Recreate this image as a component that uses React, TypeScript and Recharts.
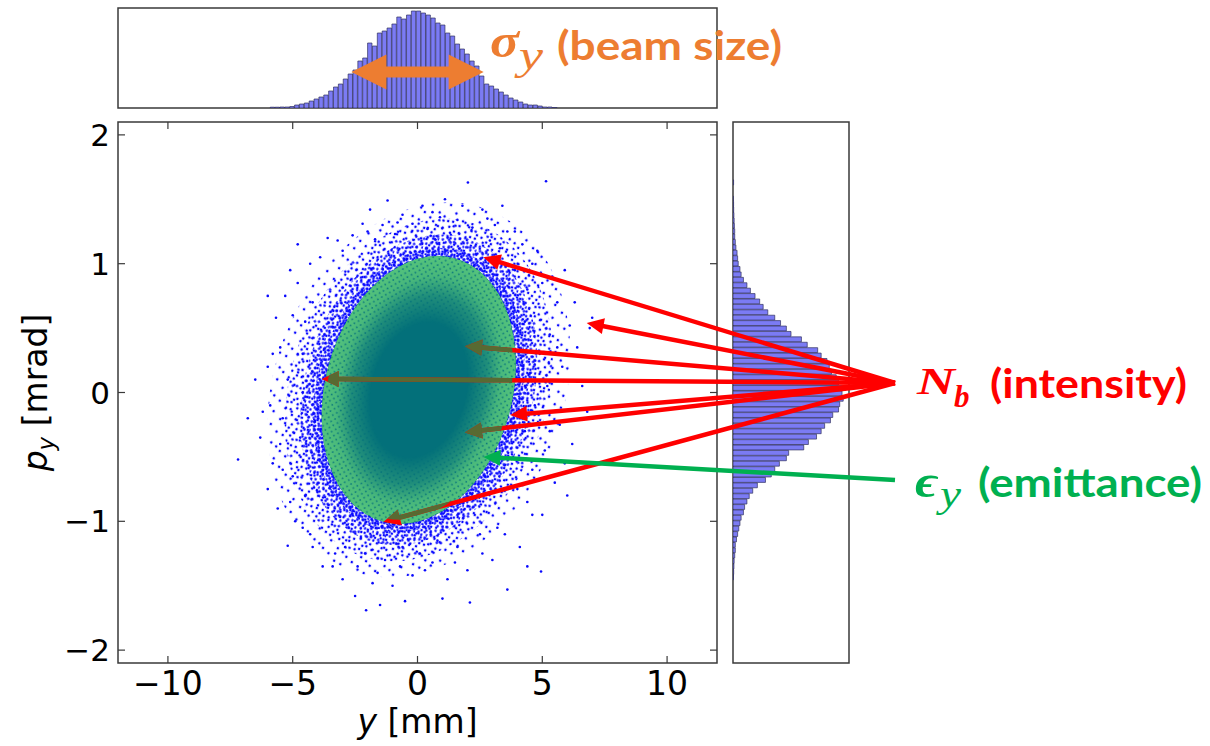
import React from 'react';
import { ScatterChart, Scatter, XAxis, YAxis, ReferenceArea, ComposedChart, Bar } from 'recharts';

const W = 1210;
const H = 746;
const MAIN = { left: 118, right: 717, top: 122, bottom: 663 };
const TOP = { left: 118, right: 717, top: 8, bottom: 108 };
const RIGHT = { left: 733, right: 849, top: 122, bottom: 663 };

const X_DOMAIN: [number, number] = [-12, 12];
const Y_DOMAIN: [number, number] = [-2.1, 2.1];
const X_TICKS = [-10, -5, 0, 5, 10];
const Y_TICKS = [-2, -1, 0, 1, 2];

// top histogram of y [mm] (percent of frame height)
const topBinStart = -5.9;
const topBinWidth = 0.195;
const topCounts = [
  0.8, 0.8, 1, 1, 1.5, 3, 4, 5, 7, 9, 11, 13, 17, 21, 24, 29, 34, 38, 47, 50,
  65, 62, 75, 77, 80, 84, 91, 89, 93, 97, 97, 95, 93, 90, 85, 83, 75, 72, 64, 59,
  54, 47, 42, 32, 24, 22, 19, 16, 13, 10, 8, 6, 4, 3, 3, 2, 1, 1, 0.5,
];
const topHistTicks = [14.3, 28.6, 42.9, 57.1, 71.4, 85.7];

// right histogram of p_y [mrad] (percent of frame width)
const rightBinStart = -1.65;
const rightBinWidth = 0.042;
const rightCounts = [
  0.5, 0, 0, 0.3, 0.5, 0.6, 0.8, 1, 1.2, 1.5,
  1.5, 2, 2.5, 3.5, 4, 4.5, 6, 7, 9, 12,
  15, 19, 23, 26, 30, 36, 41, 46, 50, 59,
  64, 73, 76, 81, 83, 85, 89, 91, 97, 94,
  95, 92, 91, 86, 84, 79, 76, 72, 65, 61,
  48, 46, 40, 36, 33, 28, 21, 17, 14, 12,
  10, 9, 7, 6, 5, 4, 3, 2, 2, 1.5,
  1, 0.8, 0.6, 0.4,
];
const rightHistTicks = [21.4, 35.7, 50, 64.3, 78.6, 92.9];

// beam core ellipse (data units) and surrounding halo scales
const ellipseCenter = { x: 0.05, y: 0.02 };
const ellipseA = 3.82;
const ellipseB = 1.04;
const ellipseShear = 0.75;
const haloScaleX = [1.56, 1.38, 1.22, 1.09];
const haloScaleY = [1.4, 1.28, 1.16, 1.06];

// sparse particles outside the dense core
const outliers: [number, number][] = [
  [0.2, 1.45], [1.1, 1.5], [2.02, 1.63], [2.6, 1.42], [-0.6, 1.38], [-1.2, 1.49], [-1.9, 1.42], [3.1, 1.3],
  [0.9, 1.36], [-0.2, 1.31], [1.6, 1.34], [2.2, 1.28], [-1.4, 1.3], [0.4, 1.27], [3.6, 1.25], [-2.6, 1.22],
  [2.9, 1.18], [-0.9, 1.23], [1.3, 1.24], [5.15, 1.64], [-2.2, 1.31], [0.7, 1.19], [-3.0, 1.1], [3.3, 1.12],
  [-1.7, 1.19],
  [4.6, 1.0], [5.0, 0.85], [4.4, 0.8], [5.6, 0.7], [6.1, 0.52], [6.9, 0.5], [7.0, 0.58], [6.4, 0.35],
  [5.3, 0.45], [4.9, 0.3], [5.8, 0.2], [6.6, 0.05], [5.2, 0.05], [4.7, -0.1], [5.7, -0.25], [6.2, -0.4],
  [5.1, -0.45], [4.6, -0.6], [5.5, -0.7], [4.4, -0.85], [5.0, -0.95], [6.0, -0.8], [4.2, 1.15], [3.9, 0.95],
  [4.3, 0.55], [4.5, 0.15], [4.3, -0.3], [6.8, -0.15], [5.9, 0.95], [4.0, -0.75],
  [2.5, -1.1], [1.6, -1.2], [0.8, -1.15], [0.1, -1.25], [-0.6, -1.2], [-1.3, -1.3], [-2.1, -1.25], [-2.9, -1.2],
  [3.2, -1.05], [2.0, -1.38], [1.2, -1.45], [-0.2, -1.42], [-1.0, -1.5], [-1.8, -1.48], [-2.5, -1.58], [-2.06, -1.69],
  [2.1, -1.63], [3.6, -1.53], [4.95, -1.39], [-0.5, -1.62], [0.6, -1.32], [-3.4, -1.35], [1.0, -1.6], [3.0, -1.3],
  [-1.5, -1.65], [4.1, -1.2],
  [-4.3, 1.0], [-4.8, 0.85], [-5.0, 0.6], [-5.67, 0.58], [-4.5, 0.55], [-5.5, 0.35], [-4.6, 0.3], [-6.0, 0.2],
  [-5.2, 0.1], [-4.6, 0.0], [-5.9, -0.1], [-5.4, -0.2], [-4.7, -0.35], [-6.3, -0.35], [-7.19, -0.52], [-5.8, -0.55],
  [-5.0, -0.65], [-4.5, -0.8], [-5.6, -0.9], [-5.2, -1.19], [-4.6, -1.05], [-6.0, -0.75], [-4.2, -1.2], [-3.8, -1.35],
  [-3.6, 1.2], [-5.1, 0.95], [-6.5, 0.1], [-4.4, -0.15], [-5.5, -0.4], [-4.8, 1.15], [-3.9, 1.05],
  [-5.3, 0.75], [-5.8, 0.3], [-6.2, -0.15], [-5.1, -0.85], [-4.9, -1.0], [-3.3, -1.25], [-2.4, -1.35], [-1.6, -1.4],
  [-0.7, -1.35], [0.3, -1.38], [1.5, -1.32], [2.6, -1.25], [3.5, -1.1], [4.6, -0.95], [5.3, -0.3], [5.6, 0.35],
  [5.4, 0.9], [4.8, 1.1], [3.9, 1.25], [2.8, 1.35], [1.8, 1.45], [0.6, 1.4], [-0.8, 1.32], [-2.0, 1.25],
  [-3.2, 1.18], [-4.2, 0.7], [-5.4, -0.6], [-4.3, -1.1], [5.9, -0.55], [6.3, 0.7], [-6.8, -0.2], [-6.0, 0.75],
  [4.4, -1.35], [-3.0, -1.45], [3.4, 1.45],
];

// annotation targets (data units)
const intensityTargets: [number, number][] = [
  [2.64, 1.05], [6.78, 0.54], [1.9, 0.36], [-3.84, 0.105], [3.71, -0.175], [1.9, -0.31], [-1.37, -1.005],
];
const emittanceTarget: [number, number] = [2.64, -0.5];
const sigmaY = 2.65;
const sigmaArrowLevel = 36;

const scatterData = outliers.map(([x, y]) => ({ x, y }));
const topData = topCounts.map((n, i) => ({ x: topBinStart + topBinWidth * (i + 0.5), n }));
const rightData = rightCounts.map((n, i) => ({ y: rightBinStart + rightBinWidth * (i + 0.5), n }));

const PX_X = (MAIN.right - MAIN.left) / (X_DOMAIN[1] - X_DOMAIN[0]);
const PX_Y = (MAIN.bottom - MAIN.top) / (Y_DOMAIN[1] - Y_DOMAIN[0]);
const xPx = (v: number) => MAIN.left + (v - X_DOMAIN[0]) * PX_X;
const yPx = (v: number) => MAIN.bottom - (v - Y_DOMAIN[0]) * PX_Y;
const topYPx = (v: number) => TOP.bottom - (v / 100) * (TOP.bottom - TOP.top);

const AX = '#3a3a3a';
const TICK_FONT = "'DejaVu Sans', sans-serif";
const fmt = (v: number) => (v < 0 ? '\u2212' + Math.abs(v) : String(v));

function ellipseGeom(cx: number, cy: number, kx: number, ky: number, sx: number, sy: number) {
  const a = ellipseA * sx * kx;
  const c = ellipseShear * sx * kx;
  const b = ellipseB * sy * ky;
  const p = a * a + c * c;
  const q = -c * b;
  const r = b * b;
  const theta = 0.5 * Math.atan2(2 * q, p - r);
  const d = Math.sqrt(((p - r) / 2) ** 2 + q * q);
  return {
    cx,
    cy,
    rx: Math.sqrt((p + r) / 2 + d),
    ry: Math.sqrt(Math.max((p + r) / 2 - d, 0)),
    deg: (theta * 180) / Math.PI,
  };
}

const R0 = Math.sqrt(ellipseA * ellipseA + ellipseShear * ellipseShear);

const dot = (x: number, y: number, k: number) => <circle key={k} cx={x} cy={y} r={1.3} fill="#0808ff" />;
const tightPts: [number, number][] = [[1, 1.5], [5, 0.8], [8, 3.5], [2.5, 5], [6.5, 6.5], [0.5, 8], [4, 8.5], [8.5, 9.5]];
const densePts: [number, number][] = [[1.5, 2], [6, 1], [10.5, 3.5], [3.5, 6.5], [8.5, 7], [12, 9.5], [1, 10.5], [5.5, 11.5], [9.5, 12.5]];
const medPts: [number, number][] = [[2, 3], [9, 1.5], [14, 6], [5, 9], [11, 11], [2, 15], [8, 14.5], [15, 13]];
const sparsePts: [number, number][] = [[3, 4], [15, 2], [22, 12], [9, 14], [4, 22], [17, 21], [12, 7]];
const speckPts: [number, number][] = [[1.4, 1.6], [4.6, 4.8]];

const BeamShape = (props: any) => {
  const { x, y, width, height } = props;
  const kx = width / (2 * R0);
  const ky = height / (2 * ellipseB);
  const cx = x + width / 2;
  const cy = y + height / 2;
  const fills = ['url(#haloSparse)', 'url(#haloMed)', 'url(#haloDense)', 'url(#haloTight)'];
  const core = ellipseGeom(cx, cy, kx, ky, 1, 1);
  const rot = `rotate(${core.deg} ${core.cx} ${core.cy})`;
  return (
    <g>
      <defs>
        <pattern id="haloTight" width={10} height={10} patternUnits="userSpaceOnUse">
          {tightPts.map(([a, b], i) => dot(a, b, i))}
        </pattern>
        <pattern id="haloDense" width={13} height={13} patternUnits="userSpaceOnUse">
          {densePts.map(([a, b], i) => dot(a, b, i))}
        </pattern>
        <pattern id="haloMed" width={17} height={17} patternUnits="userSpaceOnUse">
          {medPts.map(([a, b], i) => dot(a, b, i))}
        </pattern>
        <pattern id="haloSparse" width={25} height={25} patternUnits="userSpaceOnUse">
          {sparsePts.map(([a, b], i) => dot(a, b, i))}
        </pattern>
        <pattern id="greenSpeck" width={6.5} height={6.5} patternUnits="userSpaceOnUse">
          <rect width={6.5} height={6.5} fill="#55c47c" />
          {speckPts.map(([a, b], i) => <circle key={i} cx={a} cy={b} r={0.9} fill="#0f7d7c" />)}
        </pattern>
        <radialGradient id="ringGrad" cx="50%" cy="50%" r="50%">
          <stop offset="0%" stopColor="#000" />
          <stop offset="50%" stopColor="#000" />
          <stop offset="70%" stopColor="#5a5a5a" />
          <stop offset="85%" stopColor="#d8d8d8" />
          <stop offset="100%" stopColor="#fff" />
        </radialGradient>
        <mask id="ringMask" maskUnits="userSpaceOnUse" x={0} y={0} width={W} height={H}>
          <ellipse cx={core.cx} cy={core.cy} rx={core.rx} ry={core.ry} transform={rot} fill="url(#ringGrad)" />
        </mask>
      </defs>
      {haloScaleX.map((sx, i) => {
        const g = ellipseGeom(cx, cy, kx, ky, sx, haloScaleY[i]);
        return (
          <ellipse key={i} cx={g.cx} cy={g.cy} rx={g.rx} ry={g.ry}
            transform={`rotate(${g.deg} ${g.cx} ${g.cy})`} fill={fills[i]} />
        );
      })}
      <ellipse cx={core.cx} cy={core.cy} rx={core.rx} ry={core.ry} transform={rot} fill="#03707a" />
      <g mask="url(#ringMask)">
        <ellipse cx={core.cx} cy={core.cy} rx={core.rx} ry={core.ry} transform={rot} fill="url(#greenSpeck)" />
      </g>
    </g>
  );
};

const mainXTick = (p: any) => {
  const { x, payload } = p;
  return (
    <g>
      <line x1={x} x2={x} y1={MAIN.bottom} y2={MAIN.bottom - 7} stroke={AX} strokeWidth={1.2} />
      <line x1={x} x2={x} y1={MAIN.top} y2={MAIN.top + 7} stroke={AX} strokeWidth={1.2} />
      <text x={x} y={MAIN.bottom + 32} textAnchor="middle" fontSize={33} fontFamily={TICK_FONT} fill="#000">
        {fmt(payload.value)}
      </text>
    </g>
  );
};
const mainYTick = (p: any) => {
  const { y, payload } = p;
  return (
    <g>
      <line x1={MAIN.left} x2={MAIN.left + 7} y1={y} y2={y} stroke={AX} strokeWidth={1.2} />
      <line x1={MAIN.right} x2={MAIN.right - 7} y1={y} y2={y} stroke={AX} strokeWidth={1.2} />
      <text x={MAIN.left - 8} y={y + 11} textAnchor="end" fontSize={31} fontFamily={TICK_FONT} fill="#000">
        {fmt(payload.value)}
      </text>
    </g>
  );
};
const topXTick = (p: any) => (
  <g>
    <line x1={p.x} x2={p.x} y1={TOP.bottom} y2={TOP.bottom - 5} stroke={AX} />
    <line x1={p.x} x2={p.x} y1={TOP.top} y2={TOP.top + 5} stroke={AX} />
  </g>
);
const topYTick = (p: any) => (
  <g>
    <line x1={TOP.left} x2={TOP.left + 5} y1={p.y} y2={p.y} stroke={AX} />
    <line x1={TOP.right} x2={TOP.right - 5} y1={p.y} y2={p.y} stroke={AX} />
  </g>
);
const rightXTick = (p: any) => (
  <g>
    <line x1={p.x} x2={p.x} y1={RIGHT.bottom} y2={RIGHT.bottom - 5} stroke={AX} />
    <line x1={p.x} x2={p.x} y1={RIGHT.top} y2={RIGHT.top + 5} stroke={AX} />
  </g>
);
const rightYTick = (p: any) => (
  <g>
    <line x1={RIGHT.left} x2={RIGHT.left + 5} y1={p.y} y2={p.y} stroke={AX} />
    <line x1={RIGHT.right} x2={RIGHT.right - 5} y1={p.y} y2={p.y} stroke={AX} />
  </g>
);

const arrow = (fx: number, fy: number, tx: number, ty: number, color: string, key: string, lw = 4.5, hl = 17, hw = 8) => {
  const dx = tx - fx;
  const dy = ty - fy;
  const L = Math.hypot(dx, dy);
  const ux = dx / L;
  const uy = dy / L;
  const bx = tx - ux * hl;
  const by = ty - uy * hl;
  const nx = -uy;
  const ny = ux;
  return (
    <g key={key}>
      <line x1={fx} y1={fy} x2={bx + ux} y2={by + uy} stroke={color} strokeWidth={lw} />
      <polygon points={`${tx},${ty} ${bx + nx * hw},${by + ny * hw} ${bx - nx * hw},${by - ny * hw}`} fill={color} />
    </g>
  );
};

const Overlay = () => {
  const g = ellipseGeom(xPx(ellipseCenter.x), yPx(ellipseCenter.y), PX_X, PX_Y, 0.97, 0.97);
  const redFrom = { x: 895, y: 383 };
  const greenFrom = { x: 895, y: 480 };
  const redArrows = (color: string, prefix: string) =>
    intensityTargets.map(([vx, vy], i) => arrow(redFrom.x, redFrom.y, xPx(vx), yPx(vy), color, prefix + i));

  const lx = xPx(-sigmaY);
  const rx = xPx(sigmaY);
  const ay = topYPx(sigmaArrowLevel);
  const hl = 35;
  const hh = 17.5;
  const sh = 5.5;
  const orangePts = [
    [lx, ay], [lx + hl, ay - hh], [lx + hl, ay - sh], [rx - hl, ay - sh], [rx - hl, ay - hh],
    [rx, ay], [rx - hl, ay + hh], [rx - hl, ay + sh], [lx + hl, ay + sh], [lx + hl, ay + hh],
  ].map((q) => q.join(',')).join(' ');

  const serif = "'Liberation Serif', 'DejaVu Serif', serif";
  const label = "Lato, 'Open Sans', sans-serif";
  return (
    <svg width={W} height={H} style={{ position: 'absolute', left: 0, top: 0, pointerEvents: 'none' }}>
      <defs>
        <clipPath id="beamClip">
          <ellipse cx={g.cx} cy={g.cy} rx={g.rx} ry={g.ry} transform={`rotate(${g.deg} ${g.cx} ${g.cy})`} />
        </clipPath>
      </defs>
      <text x={(MAIN.left + MAIN.right) / 2} y={733} textAnchor="middle" fontSize={33} fontFamily={TICK_FONT} fill="#000">
        <tspan fontStyle="italic">y</tspan> [mm]
      </text>
      <text transform={`translate(47 ${(MAIN.top + MAIN.bottom) / 2}) rotate(-90)`} textAnchor="middle" fontSize={33} fontFamily={TICK_FONT} fill="#000">
        <tspan fontStyle="italic">p</tspan>
        <tspan fontStyle="italic" fontSize={23} dy={7}>y</tspan>
        <tspan dy={-7}> [mrad]</tspan>
      </text>

      <polygon points={orangePts} fill="#ED7D31" />
      <text x={490} y={57} fill="#ED7D31" fontFamily={serif} fontStyle="italic" fontWeight="bold" fontSize={48} textLength={29} lengthAdjust="spacingAndGlyphs">σ</text>
      <text x={519} y={69} fill="#ED7D31" fontFamily={serif} fontStyle="italic" fontSize={40} textLength={24} lengthAdjust="spacingAndGlyphs">y</text>
      <text x={557} y={60} fill="#ED7D31" fontFamily={label} fontWeight="bold" fontSize={41} textLength={225} lengthAdjust="spacingAndGlyphs">(beam size)</text>

      {redArrows('#FF0000', 'r')}
      <g clipPath="url(#beamClip)">{redArrows('#586a32', 'o')}</g>
      {arrow(greenFrom.x, greenFrom.y, xPx(emittanceTarget[0]), yPx(emittanceTarget[1]), '#00B050', 'g')}

      <text x={917} y={394} fill="#FF0000" fontFamily={serif} fontStyle="italic" fontWeight="bold" fontSize={38} textLength={38} lengthAdjust="spacingAndGlyphs">N</text>
      <text x={954} y={407} fill="#FF0000" fontFamily={serif} fontStyle="italic" fontWeight="bold" fontSize={31}>b</text>
      <text x={990} y={398} fill="#FF0000" fontFamily={label} fontWeight="bold" fontSize={41} textLength={197} lengthAdjust="spacingAndGlyphs">(intensity)</text>

      <text x={915} y={497} fill="#00B050" fontFamily={serif} fontStyle="italic" fontWeight="bold" fontSize={46} textLength={23} lengthAdjust="spacingAndGlyphs">ϵ</text>
      <text x={940} y={507} fill="#00B050" fontFamily={serif} fontStyle="italic" fontSize={38} textLength={21} lengthAdjust="spacingAndGlyphs">y</text>
      <text x={978} y={497} fill="#00B050" fontFamily={label} fontWeight="bold" fontSize={41} textLength={224} lengthAdjust="spacingAndGlyphs">(emittance)</text>
    </svg>
  );
};

const barFill = '#7b7bf4';
const barStroke = '#2c2c5a';

export default function App() {
  return (
    <div style={{ position: 'absolute', left: 0, top: 0, width: W, height: H, background: '#fff', overflow: 'hidden' }}>
      <div style={{ position: 'absolute', left: 0, top: 0 }}>
        <ComposedChart width={W} height={120} data={topData}
          margin={{ top: TOP.top, bottom: 120 - TOP.bottom, left: TOP.left, right: W - TOP.right }}>
          <XAxis type="number" dataKey="x" domain={X_DOMAIN} ticks={X_TICKS} allowDataOverflow interval={0}
            height={0} tickSize={0} tickMargin={0} axisLine={false} tickLine={false} tick={topXTick} />
          <YAxis type="number" domain={[0, 100]} ticks={topHistTicks} allowDataOverflow interval={0}
            width={0} tickSize={0} tickMargin={0} axisLine={false} tickLine={false} tick={topYTick} />
          <Bar dataKey="n" barSize={topBinWidth * PX_X} fill={barFill} stroke={barStroke} strokeWidth={0.9}
            strokeOpacity={0.75} isAnimationActive={false} />
          <ReferenceArea x1={X_DOMAIN[0]} x2={X_DOMAIN[1]} y1={0} y2={100} fill="none" fillOpacity={0}
            stroke={AX} strokeWidth={1.5} />
        </ComposedChart>
      </div>
      <div style={{ position: 'absolute', left: 0, top: 0 }}>
        <ComposedChart layout="vertical" width={W} height={H} data={rightData}
          margin={{ top: RIGHT.top, bottom: H - RIGHT.bottom, left: RIGHT.left, right: W - RIGHT.right }}>
          <XAxis type="number" domain={[0, 100]} ticks={rightHistTicks} allowDataOverflow interval={0}
            height={0} tickSize={0} tickMargin={0} axisLine={false} tickLine={false} tick={rightXTick} />
          <YAxis type="number" dataKey="y" domain={Y_DOMAIN} ticks={Y_TICKS} allowDataOverflow interval={0}
            width={0} tickSize={0} tickMargin={0} axisLine={false} tickLine={false} tick={rightYTick} />
          <Bar dataKey="n" barSize={rightBinWidth * PX_Y} fill={barFill} stroke={barStroke} strokeWidth={0.9}
            strokeOpacity={0.75} isAnimationActive={false} />
          <ReferenceArea x1={0} x2={100} y1={Y_DOMAIN[0]} y2={Y_DOMAIN[1]} fill="none" fillOpacity={0}
            stroke={AX} strokeWidth={1.5} />
        </ComposedChart>
      </div>
      <div style={{ position: 'absolute', left: 0, top: 0 }}>
        <ScatterChart width={W} height={H}
          margin={{ top: MAIN.top, right: W - MAIN.right, bottom: 0, left: 0 }}>
          <XAxis type="number" dataKey="x" domain={X_DOMAIN} ticks={X_TICKS} allowDataOverflow interval={0}
            height={H - MAIN.bottom} tickSize={0} tickMargin={0} axisLine={false} tickLine={false} tick={mainXTick} />
          <YAxis type="number" dataKey="y" domain={Y_DOMAIN} ticks={Y_TICKS} allowDataOverflow interval={0}
            width={MAIN.left} tickSize={0} tickMargin={0} axisLine={false} tickLine={false} tick={mainYTick} />
          <ReferenceArea
            x1={ellipseCenter.x - R0} x2={ellipseCenter.x + R0}
            y1={ellipseCenter.y - ellipseB} y2={ellipseCenter.y + ellipseB}
            shape={BeamShape} ifOverflow="visible" />
          <Scatter data={scatterData} isAnimationActive={false}
            shape={(p: any) => <circle cx={p.cx} cy={p.cy} r={1.3} fill="#0808ff" />} />
          <ReferenceArea x1={X_DOMAIN[0]} x2={X_DOMAIN[1]} y1={Y_DOMAIN[0]} y2={Y_DOMAIN[1]} fill="none"
            fillOpacity={0} stroke={AX} strokeWidth={1.5} />
        </ScatterChart>
      </div>
      <Overlay />
    </div>
  );
}
